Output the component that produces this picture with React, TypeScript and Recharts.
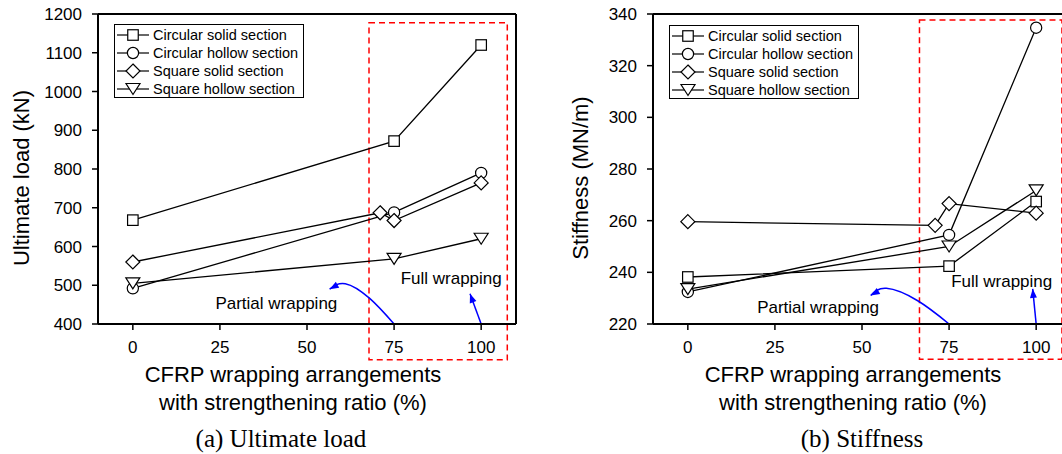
import React from 'react';
import { LineChart, Line, XAxis, YAxis, ReferenceArea, ReferenceDot, Legend } from 'recharts';

// strengthening ratio (%) of each test point
const ratios = [0, 75, 100];
const ratiosSquareSolid = [0, 71, 75, 100];

const seriesNames = [
  'Circular solid section',
  'Circular hollow section',
  'Square solid section',
  'Square hollow section',
];

// (a) Ultimate load (kN)
const loadCircularSolid = [668, 872, 1120];
const loadCircularHollow = [492, 688, 790];
const loadSquareSolid = [560, 687, 667, 764];
const loadSquareHollow = [505, 568, 620];

// (b) Stiffness (MN/m)
const stiffCircularSolid = [238.2, 242.4, 267.4];
const stiffCircularHollow = [232.4, 254.5, 334.7];
const stiffSquareSolid = [259.6, 258.2, 266.6, 262.9];
const stiffSquareHollow = [233.5, 250, 271.7];

// ticks
const xTicks = [0, 25, 50, 75, 100];
const topTicks = [2, 14, 26, 38, 50, 62, 74, 86, 98];
const loadTicks = [400, 500, 600, 700, 800, 900, 1000, 1100, 1200];
const loadFrameTicks = [480, 560, 640, 720, 800, 880, 960, 1040, 1120];
const stiffTicks = [220, 240, 260, 280, 300, 320, 340];
const stiffFrameTicks = [232, 244, 256, 268, 280, 292, 304, 316, 328];

// annotation arrows, in data units
const loadPartialArrowX = [75, 68, 61, 56.5];
const loadPartialArrowY = [400, 466, 504, 490];
const loadFullArrowX = [100, 96.8];
const loadFullArrowY = [400, 478];
const stiffPartialArrowX = [75, 66, 57, 52.5];
const stiffPartialArrowY = [220, 229, 233.8, 231];
const stiffFullArrowX = [100, 99];
const stiffFullArrowY = [220, 233.6];

const FONT = '"Liberation Sans", Arial, Helvetica, sans-serif';
const SERIF = '"Liberation Serif", "Times New Roman", serif';

type Shape = 'square' | 'circle' | 'diamond' | 'triangle';
const shapes: Shape[] = ['square', 'circle', 'diamond', 'triangle'];

const toPoints = (xs: number[], ys: number[]) => xs.map((x, i) => ({ x, y: ys[i] }));

const Marker = ({ shape, cx, cy }: { shape: Shape; cx: number; cy: number }) => {
  const common = { fill: '#fff', stroke: '#000', strokeWidth: 1.2 };
  if (shape === 'square') return <rect x={cx - 5.25} y={cy - 5.25} width={10.5} height={10.5} {...common} />;
  if (shape === 'circle') return <circle cx={cx} cy={cy} r={5.6} {...common} />;
  if (shape === 'diamond')
    return <polygon points={`${cx},${cy - 7} ${cx + 7},${cy} ${cx},${cy + 7} ${cx - 7},${cy}`} {...common} />;
  return <polygon points={`${cx - 7},${cy - 5.5} ${cx + 7},${cy - 5.5} ${cx},${cy + 5.5}`} {...common} />;
};

const LegendBox = ({ width }: { width: number }) => (
  <div
    style={{
      boxSizing: 'border-box',
      width,
      height: 74,
      border: '1px solid #000',
      background: '#fff',
      paddingTop: 1,
      fontFamily: FONT,
      fontSize: 14.5,
      color: '#000',
    }}
  >
    {seriesNames.map((name, i) => (
      <div key={name} style={{ display: 'flex', alignItems: 'center', height: 18, whiteSpace: 'nowrap' }}>
        <svg width={38} height={18} style={{ flex: 'none' }}>
          <line x1={2} x2={34} y1={9} y2={9} stroke="#000" strokeWidth={1.2} />
          <Marker shape={shapes[i]} cx={18} cy={9} />
        </svg>
        <span style={{ marginLeft: 0 }}>{name}</span>
      </div>
    ))}
  </div>
);

type Series = { name: string; shape: Shape; xs: number[]; ys: number[] };
type Arrow = { xs: number[]; ys: number[]; angle: number };
type Note = { text: string; x: number; y: number };

interface PanelProps {
  series: Series[];
  yDomain: [number, number];
  yTicks: number[];
  yFrameTicks: number[];
  yTitle: string;
  yTitleX: number;
  xTitleX: number;
  box: { x1: number; x2: number; y1: number; y2: number };
  arrows: Arrow[];
  notes: Note[];
  legendTop: number;
}

const axisLine = { stroke: '#000', strokeWidth: 2 };
const tickLine = { stroke: '#000', strokeWidth: 1.5 };

const Panel: React.FC<PanelProps> = ({
  series, yDomain, yTicks, yFrameTicks, yTitle, yTitleX, xTitleX, box, arrows, notes, legendTop,
}) => (
  <LineChart width={540} height={420} margin={{ top: 14, right: 24, bottom: 0, left: 0 }} style={{ fontFamily: FONT }}>
    <XAxis
      dataKey="x"
      type="number"
      domain={[-10, 110]}
      ticks={xTicks}
      allowDataOverflow
      height={96}
      tickSize={6}
      tickMargin={11}
      tick={{ fill: '#000', fontSize: 17 }}
      axisLine={axisLine}
      tickLine={tickLine}
      label={() => (
        <text x={xTitleX} textAnchor="middle" fontSize={22} fill="#000">
          <tspan x={xTitleX} y={382}>CFRP wrapping arrangements</tspan>
          <tspan x={xTitleX} y={410}>with strengthening ratio (%)</tspan>
        </text>
      )}
    />
    <XAxis
      xAxisId="top"
      orientation="top"
      mirror
      type="number"
      domain={[-10, 110]}
      ticks={topTicks}
      allowDataOverflow
      tick={false}
      tickSize={5}
      axisLine={axisLine}
      tickLine={{ stroke: '#000', strokeWidth: 1 }}
    />
    <YAxis
      type="number"
      domain={yDomain}
      ticks={yTicks}
      allowDataOverflow
      width={98}
      tickSize={6}
      tickMargin={10}
      tick={{ fill: '#000', fontSize: 17 }}
      axisLine={axisLine}
      tickLine={tickLine}
      label={() => (
        <text
          x={yTitleX}
          y={178}
          transform={`rotate(-90 ${yTitleX} 178)`}
          textAnchor="middle"
          fontSize={22}
          fill="#000"
        >
          {yTitle}
        </text>
      )}
    />
    <YAxis
      yAxisId="right"
      orientation="right"
      mirror
      type="number"
      domain={yDomain}
      ticks={yFrameTicks}
      allowDataOverflow
      tick={false}
      tickSize={5}
      axisLine={axisLine}
      tickLine={{ stroke: '#000', strokeWidth: 1 }}
    />
    <ReferenceArea
      x1={box.x1}
      x2={box.x2}
      y1={box.y1}
      y2={box.y2}
      ifOverflow="visible"
      fill="none"
      fillOpacity={0}
      stroke="#ff0000"
      strokeWidth={1.5}
      strokeDasharray="6 4"
    />
    {arrows.map((a, k) => (
      <Line
        key={`arrow-${k}`}
        data={toPoints(a.xs, a.ys)}
        dataKey="y"
        type="natural"
        stroke="#0000ff"
        strokeWidth={1.5}
        legendType="none"
        activeDot={false}
        isAnimationActive={false}
        dot={(p: any) =>
          p.index === a.xs.length - 1 ? (
            <polygon
              key={`ah-${k}`}
              points={`${p.cx},${p.cy} ${p.cx - 9},${p.cy - 3.5} ${p.cx - 9},${p.cy + 3.5}`}
              fill="#0000ff"
              transform={`rotate(${a.angle} ${p.cx} ${p.cy})`}
            />
          ) : (
            <g key={`ah-${k}-${p.index}`} />
          )
        }
      />
    ))}
    {series.map((s) => (
      <Line
        key={s.name}
        name={s.name}
        data={toPoints(s.xs, s.ys)}
        dataKey="y"
        type="linear"
        stroke="#000"
        strokeWidth={1.3}
        activeDot={false}
        isAnimationActive={false}
        dot={(p: any) => (
          <g key={`${s.name}-${p.index}`}>
            <Marker shape={s.shape} cx={p.cx} cy={p.cy} />
          </g>
        )}
      />
    ))}
    {notes.map((n) => (
      <ReferenceDot
        key={n.text}
        x={n.x}
        y={n.y}
        r={0}
        fill="none"
        stroke="none"
        ifOverflow="visible"
        label={{ value: n.text, position: 'center', fontSize: 17, fill: '#000' }}
      />
    ))}
    <Legend
      layout="vertical"
      align="center"
      verticalAlign="middle"
      wrapperStyle={{ left: 114, top: legendTop, width: 190, height: 74 }}
      content={() => <LegendBox width={190} />}
    />
  </LineChart>
);

const loadSeries: Series[] = [
  { name: seriesNames[0], shape: 'square', xs: ratios, ys: loadCircularSolid },
  { name: seriesNames[1], shape: 'circle', xs: ratios, ys: loadCircularHollow },
  { name: seriesNames[2], shape: 'diamond', xs: ratiosSquareSolid, ys: loadSquareSolid },
  { name: seriesNames[3], shape: 'triangle', xs: ratios, ys: loadSquareHollow },
];

const stiffSeries: Series[] = [
  { name: seriesNames[0], shape: 'square', xs: ratios, ys: stiffCircularSolid },
  { name: seriesNames[1], shape: 'circle', xs: ratios, ys: stiffCircularHollow },
  { name: seriesNames[2], shape: 'diamond', xs: ratiosSquareSolid, ys: stiffSquareSolid },
  { name: seriesNames[3], shape: 'triangle', xs: ratios, ys: stiffSquareHollow },
];

export default function App() {
  return (
    <div
      style={{
        position: 'absolute',
        left: 0,
        top: 0,
        width: 1062,
        height: 454,
        overflow: 'hidden',
        background: '#fff',
      }}
    >
      <div style={{ position: 'absolute', left: 0, top: 0 }}>
        <Panel
          series={loadSeries}
          yDomain={[400, 1200]}
          yTicks={loadTicks}
          yFrameTicks={loadFrameTicks}
          yTitle="Ultimate load (kN)"
          yTitleX={29}
          xTitleX={293}
          box={{ x1: 67.8, x2: 107.5, y1: 307.5, y2: 1177.6 }}
          arrows={[
            { xs: loadPartialArrowX, ys: loadPartialArrowY, angle: 151 },
            { xs: loadFullArrowX, ys: loadFullArrowY, angle: -110 },
          ]}
          notes={[
            { text: 'Partial wrapping', x: 41.2, y: 453 },
            { text: 'Full wrapping', x: 91.4, y: 518 },
          ]}
          legendTop={24}
        />
      </div>
      <div style={{ position: 'absolute', left: 555, top: 0 }}>
        <Panel
          series={stiffSeries}
          yDomain={[220, 340]}
          yTicks={stiffTicks}
          yFrameTicks={stiffFrameTicks}
          yTitle="Stiffness (MN/m)"
          yTitleX={33}
          xTitleX={298}
          box={{ x1: 66.5, x2: 107.4, y1: 206.4, y2: 337.7 }}
          arrows={[
            { xs: stiffPartialArrowX, ys: stiffPartialArrowY, angle: 150 },
            { xs: stiffFullArrowX, ys: stiffFullArrowY, angle: -95 },
          ]}
          notes={[
            { text: 'Partial wrapping', x: 37.4, y: 226.5 },
            { text: 'Full wrapping', x: 90.1, y: 236.8 },
          ]}
          legendTop={25}
        />
      </div>
      <svg width={1062} height={454} style={{ position: 'absolute', left: 0, top: 0, pointerEvents: 'none' }}>
        <text x={281} y={447} textAnchor="middle" fontFamily={SERIF} fontSize={25} fill="#000">
          (a) Ultimate load
        </text>
        <text x={862} y={447} textAnchor="middle" fontFamily={SERIF} fontSize={25} fill="#000">
          (b) Stiffness
        </text>
      </svg>
    </div>
  );
}
